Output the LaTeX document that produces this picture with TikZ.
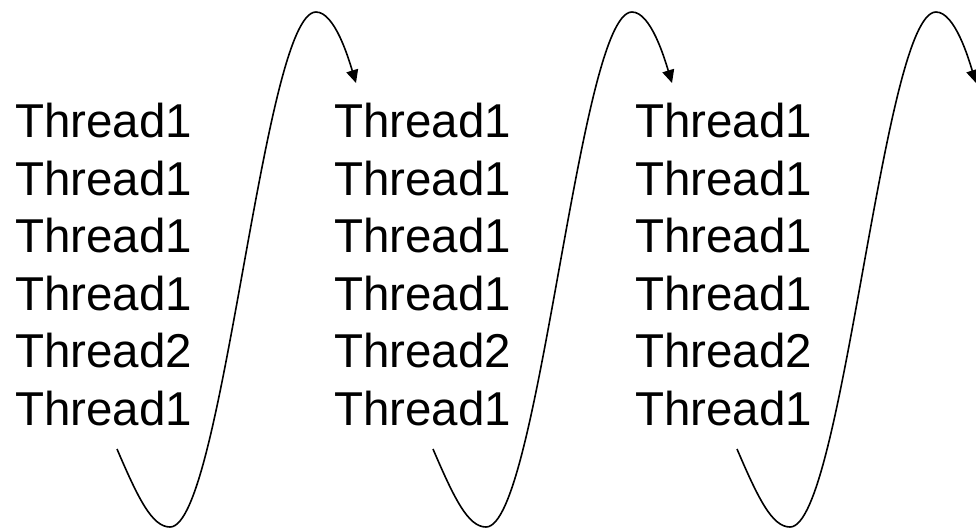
\documentclass[tikz,border=0pt]{standalone}
\usepackage{fontspec}
\setmainfont{Liberation Sans}
\usetikzlibrary{arrows.meta}
\begin{document}
\begin{tikzpicture}[x=1pt,y=-1pt,
  threadtext/.style={anchor=base west, inner sep=0pt,
    font=\fontsize{47.5}{58}\selectfont},
  swirl/.style={line width=1.6pt, -{Triangle[length=13pt,width=12pt]}}]
\useasboundingbox (0,0) rectangle (976,528);
% three columns of thread names
\foreach \c/\x in {1/15,2/334,3/635}{
  \foreach \r/\t in {1/Thread1,2/Thread1,3/Thread1,4/Thread1,5/Thread2,6/Thread1}{
    \node[threadtext] (t\c r\r) at (\x, 80+57.5*\r) {\t};
  }
}
% looping arrows carrying execution over to the next column
\foreach \k/\dx in {0/0,1/316,2/620}{
  \begin{scope}[xshift=\dx pt]
    \coordinate (s\k) at (117,449);
    \coordinate (b\k) at (170,527);
    \coordinate (p\k) at (316,12);
    \coordinate (e\k) at (356,83);
    \draw[swirl] (s\k) .. controls (138,498) and (152,527) .. (b\k)
      .. controls (223,527) and (263,12) .. (p\k)
      .. controls (335,12) and (349,60) .. (e\k);
  \end{scope}
}
\end{tikzpicture}
\end{document}
